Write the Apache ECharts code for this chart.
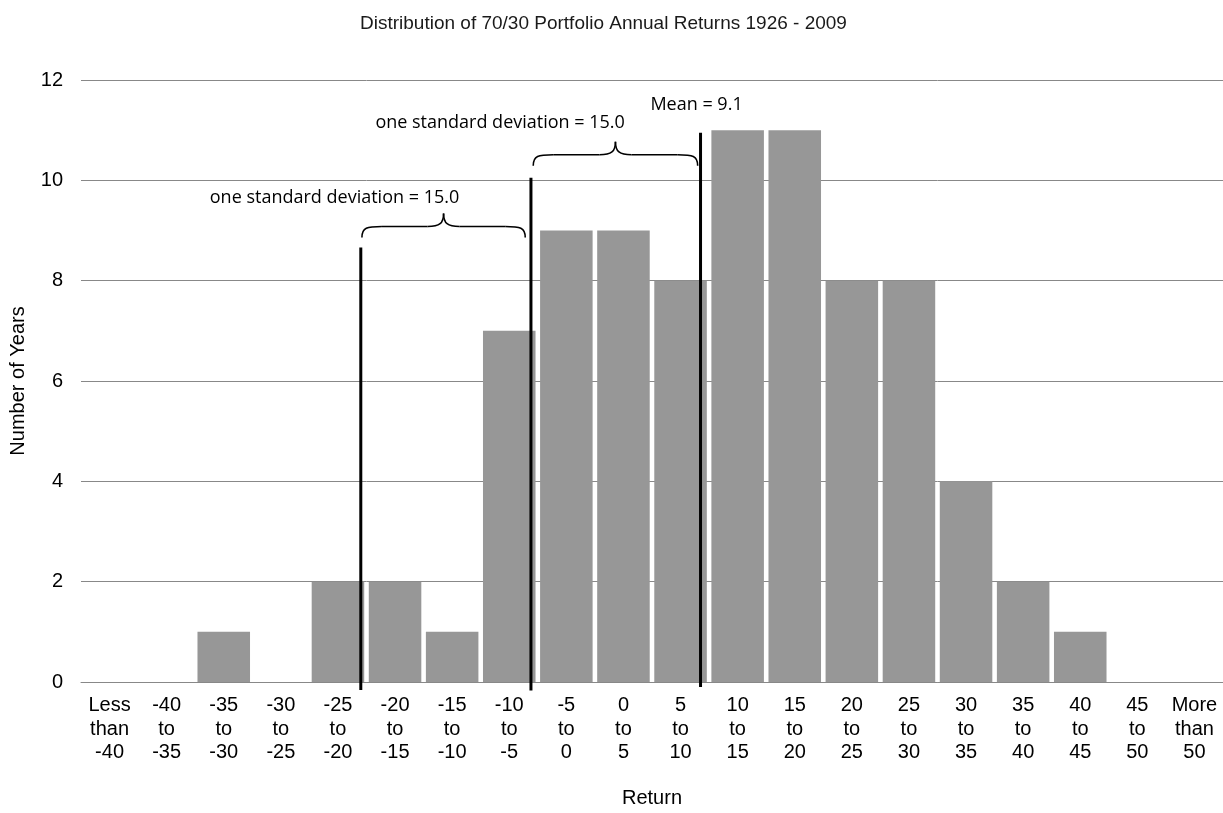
<!DOCTYPE html>
<html>
<head>
<meta charset="utf-8">
<script src="https://cdn.jsdelivr.net/npm/echarts@6/dist/echarts.min.js"></script>
<style>
html,body{margin:0;padding:0;background:#fff;}
#chart{width:1223px;height:813px;}
</style>
</head>
<body>
<div id="chart"></div>
<script>
const titleText = 'Distribution of 70/30 Portfolio Annual Returns 1926 - 2009';
const categories = ['Less\nthan\n-40','-40\nto\n-35','-35\nto\n-30','-30\nto\n-25','-25\nto\n-20','-20\nto\n-15','-15\nto\n-10','-10\nto\n-5','-5\nto\n0','0\nto\n5','5\nto\n10','10\nto\n15','15\nto\n20','20\nto\n25','25\nto\n30','30\nto\n35','35\nto\n40','40\nto\n45','45\nto\n50','More\nthan\n50'];
const yearCounts = [0,0,1,0,2,2,1,7,9,9,8,11,11,8,8,4,2,1,0,0];
const yTicks = [0,2,4,6,8,10,12];
// annotation positions in category-index units (0 = first category centre)
const markerX = [4.40, 7.38, 10.35];
const markerBottom = [-0.16, -0.17, -0.1];
const markerTop = [8.66, 10.05, 10.95];
const braceStart = [4.42, 7.42];
const braceEnd = [7.28, 10.30];
const braceLevel = [9.08, 10.51];
const noteText = ['one standard deviation = 15.0', 'one standard deviation = 15.0', 'Mean = 9.1'];
const noteX = [3.94, 6.84, 10.28];
const noteY = [9.66, 11.15, 11.50];

const chart = echarts.init(document.getElementById('chart'));
const FONT = 'Liberation Sans, Arial, sans-serif';

const markerData = markerX.map((x, i) => [x, markerBottom[i], markerTop[i]]);
const braceData = braceStart.map((s, i) => [s, braceEnd[i], braceLevel[i]]);
const noteData = noteX.map((x, i) => [x, noteY[i], noteText[i]]);

chart.setOption({
  animation: false,
  backgroundColor: '#fff',
  title: {
    text: titleText,
    left: 355,
    top: 9,
    textStyle: {fontFamily: FONT, fontSize: 19, fontWeight: 'normal', color: '#1a1a1a'}
  },
  grid: {left: 78, right: 0, top: 80, bottom: 129, containLabel: false},
  xAxis: [{
    type: 'category',
    data: categories,
    name: 'Return',
    nameLocation: 'middle',
    nameGap: 106,
    nameTextStyle: {fontFamily: FONT, fontSize: 20, color: '#000'},
    axisLine: {lineStyle: {color: '#888', width: 1}},
    axisTick: {show: false},
    axisLabel: {interval: 0, fontFamily: FONT, fontSize: 20, color: '#000', lineHeight: 23.5, margin: 12}
  }, {
    type: 'value',
    min: -0.5,
    max: 19.5,
    show: false
  }],
  yAxis: {
    type: 'value',
    min: yTicks[0],
    max: yTicks[yTicks.length - 1],
    interval: 2,
    name: 'Number of Years',
    nameLocation: 'middle',
    nameGap: 53,
    nameTextStyle: {fontFamily: FONT, fontSize: 20, color: '#000'},
    axisLine: {show: false},
    axisTick: {show: false},
    axisLabel: {fontFamily: FONT, fontSize: 20, color: '#000', margin: 18},
    splitLine: {lineStyle: {color: '#888', width: 1}}
  },
  series: [{
    type: 'bar',
    data: yearCounts,
    barCategoryGap: '8%',
    itemStyle: {color: '#979797'},
    z: 2
  }, {
    type: 'custom',
    xAxisIndex: 1,
    yAxisIndex: 0,
    clip: false,
    z: 5,
    data: markerData,
    renderItem: function (params, api) {
      const x = api.value(0);
      const a = api.coord([x, api.value(1)]);
      const b = api.coord([x, api.value(2)]);
      return {type: 'line', shape: {x1: a[0], y1: a[1], x2: b[0], y2: b[1]}, style: {stroke: '#000', lineWidth: 3}};
    }
  }, {
    type: 'custom',
    xAxisIndex: 1,
    yAxisIndex: 0,
    clip: false,
    z: 5,
    data: braceData,
    renderItem: function (params, api) {
      const p0 = api.coord([api.value(0), api.value(2)]);
      const p1 = api.coord([api.value(1), api.value(2)]);
      const x0 = p0[0], x1 = p1[0], y = p0[1];
      const xm = (x0 + x1) / 2;
      const drop = 11, rise = 13, r = 20, rm = 16;
      const st = {stroke: '#000', lineWidth: 1.6, fill: null};
      return {
        type: 'group',
        children: [
          {type: 'bezierCurve', shape: {x1: x0, y1: y + drop, cpx1: x0, cpy1: y + 1, cpx2: x0 + 5, cpy2: y, x2: x0 + r, y2: y}, style: st},
          {type: 'line', shape: {x1: x0 + r, y1: y, x2: xm - rm, y2: y}, style: st},
          {type: 'bezierCurve', shape: {x1: xm - rm, y1: y, cpx1: xm - 4, cpy1: y, cpx2: xm, cpy2: y - 3, x2: xm, y2: y - rise}, style: st},
          {type: 'bezierCurve', shape: {x1: xm, y1: y - rise, cpx1: xm, cpy1: y - 3, cpx2: xm + 4, cpy2: y, x2: xm + rm, y2: y}, style: st},
          {type: 'line', shape: {x1: xm + rm, y1: y, x2: x1 - r, y2: y}, style: st},
          {type: 'bezierCurve', shape: {x1: x1 - r, y1: y, cpx1: x1 - 5, cpy1: y, cpx2: x1, cpy2: y + 1, x2: x1, y2: y + drop}, style: st}
        ]
      };
    }
  }, {
    type: 'custom',
    xAxisIndex: 1,
    yAxisIndex: 0,
    clip: false,
    z: 6,
    data: noteData,
    renderItem: function (params, api) {
      const p = api.coord([api.value(0), api.value(1)]);
      return {
        type: 'text',
        x: p[0],
        y: p[1],
        style: {
          text: noteText[params.dataIndex],
          fontFamily: 'Open Sans, sans-serif',
          fontSize: 18,
          fill: '#000',
          align: 'center',
          verticalAlign: 'middle',
          textAlign: 'center',
          textVerticalAlign: 'middle'
        }
      };
    }
  }]
});
</script>
</body>
</html>
